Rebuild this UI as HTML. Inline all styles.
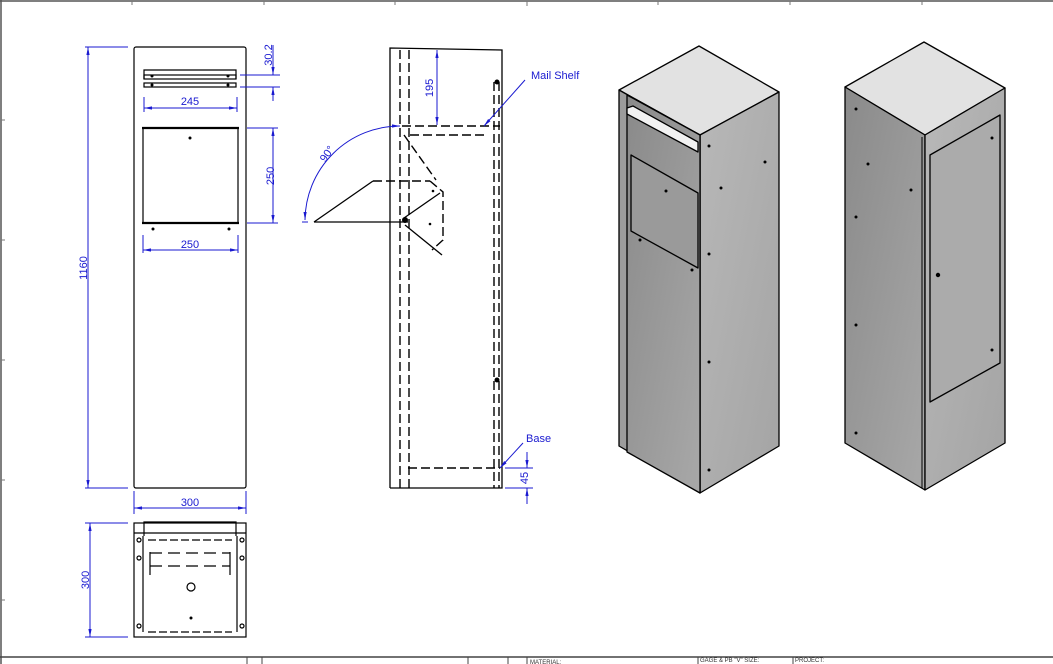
<!DOCTYPE html>
<html><head><meta charset="utf-8"><style>
html,body{margin:0;padding:0;background:#fff;}
svg{display:block;font-family:"Liberation Sans",sans-serif;}
</style></head><body>
<svg width="1053" height="664" viewBox="0 0 1053 664" xmlns="http://www.w3.org/2000/svg">
<defs>
<marker id="a" viewBox="0 0 10 10" refX="10" refY="5" markerWidth="8" markerHeight="8" orient="auto-start-reverse"><path d="M0,3 L10,5 L0,7 z" fill="#1a1ad0"/></marker>
<linearGradient id="gR" x1="0" y1="0" x2="1" y2="1"><stop offset="0" stop-color="#b8b8b8"/><stop offset="1" stop-color="#a4a4a4"/></linearGradient>
<linearGradient id="gL" x1="0" y1="0" x2="1" y2="1"><stop offset="0" stop-color="#8a8a8a"/><stop offset="1" stop-color="#a8a8a8"/></linearGradient>
</defs>
<!-- border -->
<g stroke="#555" stroke-width="1.5" fill="none">
<line x1="0" y1="1" x2="1053" y2="1"/><line x1="1" y1="0" x2="1" y2="664"/>
</g>
<g stroke="#777" stroke-width="1">
<line x1="132" y1="1" x2="132" y2="5"/><line x1="264" y1="1" x2="264" y2="5"/><line x1="395" y1="1" x2="395" y2="5"/><line x1="527" y1="1" x2="527" y2="6"/><line x1="658" y1="1" x2="658" y2="5"/><line x1="790" y1="1" x2="790" y2="5"/><line x1="922" y1="1" x2="922" y2="5"/>
<line x1="1" y1="120" x2="5" y2="120"/><line x1="1" y1="240" x2="5" y2="240"/><line x1="1" y1="360" x2="5" y2="360"/><line x1="1" y1="480" x2="5" y2="480"/><line x1="1" y1="600" x2="5" y2="600"/>
</g>

<!-- FRONT VIEW -->
<g stroke="#000" fill="none" stroke-width="1.2">
<rect x="134" y="47" width="112" height="441" rx="2"/>
<polyline points="144,79 144,70 236,70 236,79"/>
<rect x="144" y="75" width="92" height="4"/>
<rect x="144" y="83" width="92" height="4"/>
<rect x="143" y="128" width="95" height="95"/>
<line x1="142" y1="128" x2="239" y2="128" stroke-width="2.2"/>
<line x1="142" y1="223" x2="239" y2="223" stroke-width="2.2"/>
</g>
<g fill="#000"><circle cx="152" cy="76" r="1.5"/><circle cx="228" cy="76" r="1.5"/><circle cx="152" cy="85" r="1.5"/><circle cx="228" cy="85" r="1.5"/>
<circle cx="190" cy="138" r="1.5"/><circle cx="153" cy="229" r="1.5"/><circle cx="229" cy="229" r="1.5"/></g>
<g stroke="#1a1ad0" stroke-width="1" fill="none">
<line x1="144" y1="97" x2="144" y2="112"/><line x1="237" y1="97" x2="237" y2="112"/>
<line x1="144" y1="108" x2="237" y2="108" marker-start="url(#a)" marker-end="url(#a)"/>
<line x1="143" y1="235" x2="143" y2="253"/><line x1="238" y1="235" x2="238" y2="253"/>
<line x1="143" y1="250" x2="238" y2="250" marker-start="url(#a)" marker-end="url(#a)"/>
<line x1="247" y1="128" x2="278" y2="128"/><line x1="247" y1="223" x2="278" y2="223"/>
<line x1="273" y1="128" x2="273" y2="223" marker-start="url(#a)" marker-end="url(#a)"/>
<line x1="240" y1="75" x2="280" y2="75"/><line x1="240" y1="87" x2="280" y2="87"/>
<line x1="273" y1="45" x2="273" y2="75" marker-end="url(#a)"/>
<line x1="273" y1="101" x2="273" y2="87" marker-end="url(#a)"/>
<line x1="85" y1="47" x2="128" y2="47"/><line x1="85" y1="488" x2="128" y2="488"/>
<line x1="88" y1="47" x2="88" y2="488" marker-start="url(#a)" marker-end="url(#a)"/>
<line x1="134" y1="491" x2="134" y2="514"/><line x1="246" y1="491" x2="246" y2="514"/>
<line x1="134" y1="508" x2="246" y2="508" marker-start="url(#a)" marker-end="url(#a)"/>
<line x1="85" y1="523" x2="128" y2="523"/><line x1="85" y1="637" x2="128" y2="637"/>
<line x1="90" y1="523" x2="90" y2="637" marker-start="url(#a)" marker-end="url(#a)"/>
</g>
<g fill="#1a1ad0" font-size="11">
<text x="190" y="105" text-anchor="middle">245</text>
<text x="190" y="248" text-anchor="middle">250</text>
<text x="190" y="506" text-anchor="middle">300</text>
<text transform="translate(274,176) rotate(-90)" text-anchor="middle">250</text>
<text transform="translate(272,55) rotate(-90)" text-anchor="middle">30.2</text>
<text transform="translate(87,268) rotate(-90)" text-anchor="middle">1160</text>
<text transform="translate(89,580) rotate(-90)" text-anchor="middle">300</text>
</g>

<!-- BOTTOM VIEW -->
<g stroke="#000" fill="none" stroke-width="1.2">
<rect x="134" y="523" width="112" height="114"/>
<polyline points="144,536 144,522 236,522 236,536"/>
<line x1="134" y1="533" x2="246" y2="533"/>
<line x1="143" y1="536" x2="143" y2="632"/><line x1="237" y1="536" x2="237" y2="632"/>
<line x1="148" y1="540" x2="232" y2="540" stroke-dasharray="8,3"/>
<line x1="148" y1="632" x2="232" y2="632" stroke-dasharray="8,3"/>
<line x1="150" y1="553" x2="230" y2="553" stroke-dasharray="12,6"/>
<line x1="150" y1="566" x2="230" y2="566" stroke-dasharray="12,6"/>
<line x1="150" y1="552" x2="150" y2="575"/><line x1="230" y1="552" x2="230" y2="575"/>
<circle cx="191" cy="587" r="4"/>
<circle cx="139" cy="558" r="2"/><circle cx="242" cy="558" r="2"/>
<circle cx="139" cy="626" r="2"/><circle cx="242" cy="626" r="2"/>
<circle cx="139" cy="540" r="2"/><circle cx="242" cy="540" r="2"/>
</g>
<circle cx="191" cy="618" r="1.5" fill="#000"/>

<!-- SIDE VIEW -->
<g stroke="#000" fill="none" stroke-width="1.3">
<polyline points="390,488 390,48 502,50 502,488 390,488"/>
<g stroke-dasharray="9,4" stroke-width="1.4">
<line x1="400" y1="50" x2="400" y2="488"/>
<line x1="409" y1="50" x2="409" y2="488"/>
<line x1="494" y1="82" x2="494" y2="488"/>
<line x1="499" y1="82" x2="499" y2="488"/>
<line x1="402" y1="126" x2="500" y2="126"/>
<line x1="410" y1="135" x2="485" y2="135"/>
<line x1="408" y1="468" x2="500" y2="468"/>
<line x1="373" y1="181" x2="430" y2="181"/>
<polyline points="430,181 443,192 443,240 432,250"/>
<line x1="404" y1="135" x2="436" y2="180"/>
</g>
<line x1="314" y1="222" x2="408" y2="222"/>
<line x1="314" y1="222" x2="373" y2="181"/>
<polyline points="405,225 442,255"/>
<polyline points="404,218 440,193"/>
</g>
<g fill="#000"><circle cx="405" cy="220" r="3"/><circle cx="497" cy="82" r="2.5"/><circle cx="497" cy="380" r="2.5"/><circle cx="433" cy="191" r="1.3"/><circle cx="430" cy="224" r="1.3"/></g>
<g stroke="#1a1ad0" stroke-width="1" fill="none">
<line x1="437" y1="50" x2="437" y2="125" marker-start="url(#a)" marker-end="url(#a)"/>
<path d="M400,126 A95,95 0 0 0 305,220" marker-start="url(#a)" marker-end="url(#a)"/>
<line x1="302" y1="222" x2="308" y2="222"/>
<line x1="525" y1="80" x2="484" y2="126" marker-end="url(#a)"/>
<line x1="523" y1="443" x2="500" y2="468" marker-end="url(#a)"/>
<line x1="505" y1="468" x2="533" y2="468"/><line x1="505" y1="488" x2="533" y2="488"/>
<line x1="527" y1="452" x2="527" y2="468" marker-end="url(#a)"/>
<line x1="527" y1="504" x2="527" y2="488" marker-end="url(#a)"/>
</g>
<g fill="#1a1ad0" font-size="11">
<text transform="translate(433,88) rotate(-90)" text-anchor="middle">195</text>
<text transform="translate(330,156) rotate(-55)" text-anchor="middle">90°</text>
<text x="531" y="79">Mail Shelf</text>
<text x="526" y="442">Base</text>
<text transform="translate(528,478) rotate(-90)" text-anchor="middle">45</text>
</g>

<!-- ISO 1 -->
<g stroke="#000" stroke-width="1.3" stroke-linejoin="round">
<polygon points="619,90 699,46 779,92 700,135" fill="#e2e2e2"/>
<polygon points="700,135 779,92 779,446 700,493" fill="url(#gR)"/>
<polygon points="619,90 700,135 700,493 619,446" fill="#9c9c9c"/>
<polygon points="627,95 700,135 700,493 627,452" fill="url(#gL)"/>
<polygon points="627,108 633,106 698,142 698,152 627,114" fill="#f2f2f2"/>
<polygon points="631,155 698,193 698,268 631,231" fill="#9a9a9a"/>
</g>
<g fill="#000"><circle cx="709" cy="146" r="1.5"/><circle cx="765" cy="162" r="1.5"/><circle cx="721" cy="188" r="1.5"/><circle cx="709" cy="254" r="1.5"/><circle cx="709" cy="362" r="1.5"/><circle cx="709" cy="470" r="1.5"/><circle cx="666" cy="191" r="1.5"/><circle cx="640" cy="240" r="1.5"/><circle cx="692" cy="270" r="1.5"/></g>

<!-- ISO 2 -->
<g stroke="#000" stroke-width="1.3" stroke-linejoin="round">
<polygon points="845,87 924,42 1005,88 925,135" fill="#e2e2e2"/>
<polygon points="845,87 925,135 925,490 845,443" fill="url(#gL)"/>
<polygon points="925,135 1005,88 1005,443 925,490" fill="url(#gR)"/>
<polygon points="930,155 1000,115 1000,363 930,402" fill="#ababab"/>
<line x1="922" y1="137" x2="922" y2="488" stroke-width="1"/>
</g>
<g fill="#000"><circle cx="856" cy="109" r="1.5"/><circle cx="868" cy="164" r="1.5"/><circle cx="911" cy="190" r="1.5"/><circle cx="856" cy="217" r="1.5"/><circle cx="856" cy="325" r="1.5"/><circle cx="856" cy="433" r="1.5"/><circle cx="992" cy="138" r="1.5"/><circle cx="992" cy="350" r="1.5"/><circle cx="938" cy="275" r="2.2"/></g>

<!-- title block -->
<g stroke="#444" stroke-width="1">
<line x1="0" y1="657" x2="1053" y2="657" stroke-width="1.5"/>
<line x1="247" y1="657" x2="247" y2="664"/><line x1="262" y1="657" x2="262" y2="664"/>
<line x1="468" y1="657" x2="468" y2="664"/><line x1="508" y1="657" x2="508" y2="664"/>
<line x1="527" y1="657" x2="527" y2="664"/><line x1="698" y1="657" x2="698" y2="664"/>
<line x1="793" y1="657" x2="793" y2="664"/>
</g>
<g fill="#333" font-size="6">
<text x="530" y="664">MATERIAL:</text>
<text x="700" y="662">GAGE &amp; PB "V" SIZE:</text>
<text x="795" y="662">PROJECT:</text>
</g>
</svg>
</body></html>
